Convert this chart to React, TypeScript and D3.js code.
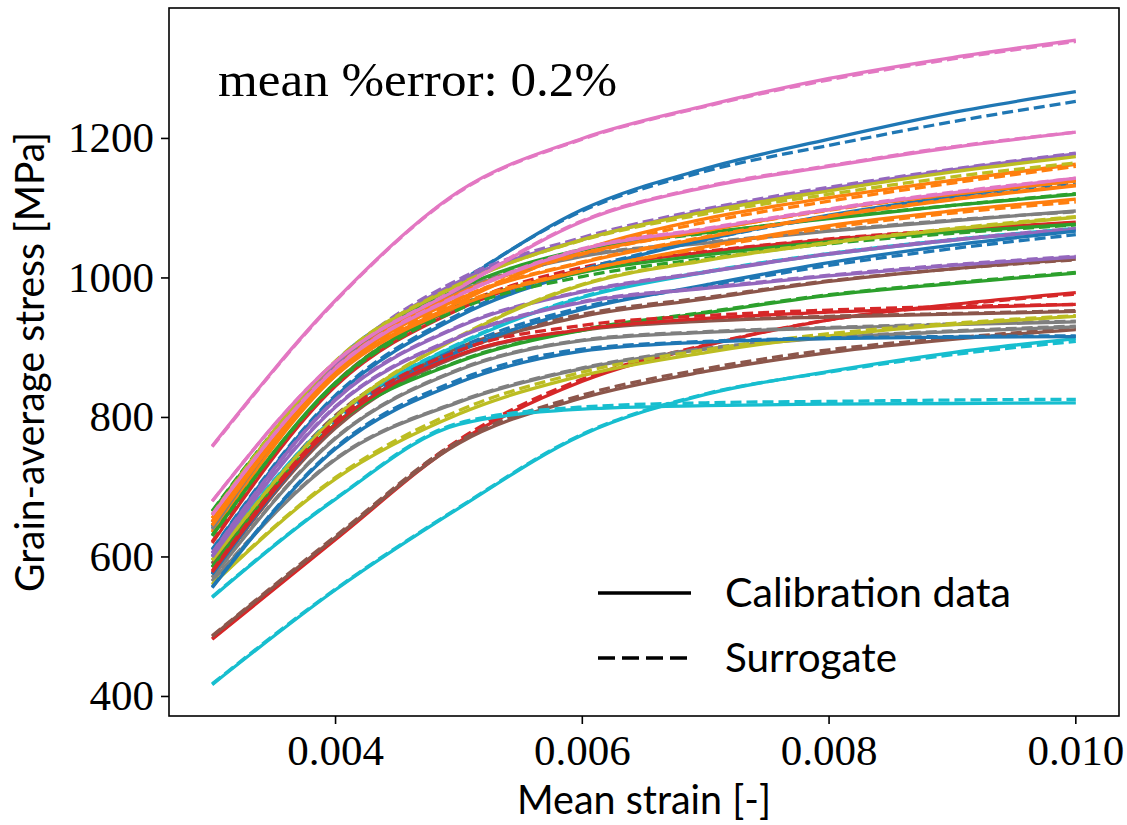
import React from 'react';
import * as d3 from 'd3';

const strain = [0.003, 0.004, 0.005, 0.006, 0.007, 0.008, 0.009, 0.010];

// Calibration data (solid), one row per sample; colour follows tab10 order by index
const calibration: number[][] = [
  [645, 880, 993, 1098, 1157, 1199, 1237, 1267],
  [635, 860, 965, 1040, 1085, 1115, 1140, 1163],
  [665, 875, 985, 1041, 1065, 1085, 1104, 1120],
  [620, 845, 955, 1012, 1037, 1055, 1069, 1080],
  [650, 875, 995, 1055, 1097, 1128, 1155, 1178],
  [590, 800, 895, 945, 970, 995, 1013, 1027],
  [759, 968, 1124, 1200, 1247, 1286, 1316, 1341],
  [640, 870, 980, 1031, 1050, 1067, 1082, 1096],
  [660, 880, 990, 1055, 1095, 1125, 1152, 1174],
  [600, 800, 905, 972, 1008, 1034, 1054, 1070],
  [610, 830, 945, 1010, 1055, 1090, 1117, 1140],
  [655, 870, 978, 1035, 1068, 1098, 1120, 1139],
  [630, 850, 960, 1008, 1033, 1052, 1066, 1077],
  [482, 625, 765, 852, 903, 940, 962, 979],
  [605, 825, 930, 980, 1008, 1034, 1054, 1070],
  [575, 785, 888, 925, 938, 944, 948, 952],
  [680, 880, 985, 1081, 1130, 1160, 1187, 1209],
  [570, 770, 868, 910, 922, 928, 933, 937],
  [595, 800, 915, 990, 1025, 1050, 1070, 1087],
  [417, 553, 670, 775, 833, 866, 893, 913],
  [575, 790, 895, 955, 990, 1022, 1047, 1067],
  [645, 865, 970, 1022, 1058, 1088, 1112, 1132],
  [585, 790, 880, 925, 950, 975, 992, 1007],
  [578, 790, 890, 926, 942, 951, 957, 962],
  [600, 815, 915, 965, 985, 1003, 1018, 1030],
  [486, 628, 763, 828, 866, 893, 912, 926],
  [660, 870, 975, 1041, 1070, 1098, 1122, 1143],
  [565, 740, 822, 870, 898, 914, 923, 930],
  [560, 712, 805, 860, 893, 917, 933, 945],
  [542, 683, 790, 812, 817, 819, 820, 821],
  [556, 755, 850, 895, 908, 913, 915, 916],
  [650, 860, 960, 1010, 1045, 1075, 1096, 1113],
];

// Surrogate predictions (dashed)
const surrogate: number[][] = [
  [643, 878, 994, 1096, 1153, 1190, 1224, 1253],
  [637, 862, 968, 1038, 1080, 1110, 1136, 1160],
  [666, 876, 983, 1040, 1064, 1086, 1104, 1121],
  [622, 850, 960, 1015, 1038, 1056, 1069, 1079],
  [650, 877, 998, 1058, 1099, 1130, 1156, 1179],
  [591, 803, 900, 948, 972, 996, 1013, 1026],
  [758, 967, 1123, 1199, 1246, 1284, 1314, 1339],
  [641, 871, 981, 1032, 1051, 1068, 1083, 1095],
  [661, 881, 991, 1054, 1092, 1120, 1145, 1165],
  [601, 801, 906, 973, 1009, 1035, 1055, 1071],
  [611, 832, 948, 1012, 1055, 1088, 1113, 1135],
  [656, 871, 977, 1034, 1068, 1097, 1120, 1140],
  [631, 848, 955, 1002, 1028, 1049, 1064, 1076],
  [483, 627, 768, 855, 904, 940, 961, 977],
  [606, 826, 931, 981, 1009, 1035, 1055, 1071],
  [576, 786, 889, 926, 939, 945, 949, 953],
  [680, 880, 986, 1082, 1131, 1161, 1188, 1209],
  [571, 771, 869, 911, 923, 929, 934, 938],
  [596, 801, 916, 991, 1026, 1051, 1071, 1088],
  [418, 554, 671, 776, 834, 865, 890, 909],
  [576, 793, 900, 958, 988, 1018, 1042, 1062],
  [646, 866, 971, 1023, 1059, 1089, 1113, 1133],
  [586, 791, 881, 926, 951, 976, 993, 1008],
  [580, 795, 896, 932, 946, 954, 959, 962],
  [601, 816, 916, 966, 986, 1004, 1019, 1031],
  [487, 630, 766, 832, 870, 897, 914, 928],
  [661, 871, 976, 1042, 1071, 1099, 1123, 1143],
  [566, 741, 823, 871, 899, 915, 924, 931],
  [561, 714, 810, 865, 897, 920, 935, 946],
  [543, 684, 792, 815, 821, 823, 825, 826],
  [557, 757, 854, 898, 909, 914, 916, 917],
  [651, 862, 962, 1011, 1043, 1072, 1093, 1109],
];

const xTicks = [0.004, 0.006, 0.008, 0.010];
const xTickLabels = ['0.004', '0.006', '0.008', '0.010'];
const yTicks = [400, 600, 800, 1000, 1200];
const yTickLabels = ['400', '600', '800', '1000', '1200'];
const legendLabels = ['Calibration data', 'Surrogate'];
const annotationText = 'mean %error: 0.2%';
const xLabel = 'Mean strain [-]';
const yLabel = 'Grain-average stress [MPa]';

export default function App() {
  const W = 1127;
  const H = 825;
  const left = 169, right = 1119, top = 8, bottom = 716;

  const x = d3.scaleLinear().domain([0.00265, 0.01035]).range([left, right]);
  const y = d3.scaleLinear().domain([372, 1387]).range([bottom, top]);
  const color = d3.scaleOrdinal<number, string>().domain(d3.range(10)).range(d3.schemeCategory10);

  const line = d3
    .line<number>()
    .x((_, j) => x(strain[j]))
    .y((d) => y(d))
    .curve(d3.curveMonotoneX);

  const serif = "'Liberation Serif', 'Times New Roman', serif";
  const sans = "Lato, 'Open Sans', 'DejaVu Sans', sans-serif";
  const lw = 3.3;

  return (
    <svg
      width={W}
      height={H}
      viewBox={`0 0 ${W} ${H}`}
      style={{ position: 'absolute', left: 0, top: 0, background: '#fff' }}
    >
      <rect x={0} y={0} width={W} height={H} fill="#fff" />
      <defs>
        <clipPath id="plotArea">
          <rect x={left} y={top} width={right - left} height={bottom - top} />
        </clipPath>
      </defs>

      <g clipPath="url(#plotArea)" fill="none" strokeLinejoin="round">
        {calibration.map((row, i) => (
          <g key={i}>
            <path d={line(row) || ''} stroke={color(i % 10)} strokeWidth={lw} />
            <path
              d={line(surrogate[i]) || ''}
              stroke={color(i % 10)}
              strokeWidth={lw}
              strokeDasharray="11,5"
            />
          </g>
        ))}
      </g>

      {/* frame */}
      <rect
        x={left}
        y={top}
        width={right - left}
        height={bottom - top}
        fill="none"
        stroke="#000"
        strokeWidth={1.6}
      />

      {/* x ticks */}
      {xTicks.map((t, i) => (
        <g key={'xt' + i}>
          <line x1={x(t)} x2={x(t)} y1={bottom} y2={bottom + 8} stroke="#000" strokeWidth={1.6} />
          <text
            x={x(t)}
            y={765}
            textAnchor="middle"
            fontFamily={serif}
            fontSize={43}
            fill="#000"
          >
            {xTickLabels[i]}
          </text>
        </g>
      ))}

      {/* y ticks */}
      {yTicks.map((t, i) => (
        <g key={'yt' + i}>
          <line x1={left - 8} x2={left} y1={y(t)} y2={y(t)} stroke="#000" strokeWidth={1.6} />
          <text
            x={154}
            y={y(t) + 14}
            textAnchor="end"
            fontFamily={serif}
            fontSize={43}
            fill="#000"
          >
            {yTickLabels[i]}
          </text>
        </g>
      ))}

      {/* axis labels */}
      <text
        x={(left + right) / 2}
        y={814}
        textAnchor="middle"
        fontFamily={sans}
        fontSize={41}
        textLength={254}
        lengthAdjust="spacingAndGlyphs"
        fill="#000"
      >
        {xLabel}
      </text>
      <text
        transform={`translate(44, ${(top + bottom) / 2}) rotate(-90)`}
        textAnchor="middle"
        fontFamily={sans}
        fontSize={41}
        textLength={460}
        lengthAdjust="spacingAndGlyphs"
        fill="#000"
      >
        {yLabel}
      </text>

      {/* annotation */}
      <text
        x={218}
        y={96}
        fontFamily={serif}
        fontSize={48}
        textLength={399}
        lengthAdjust="spacingAndGlyphs"
        fill="#000"
      >
        {annotationText}
      </text>

      {/* legend */}
      <line x1={598} x2={691} y1={593} y2={593} stroke="#000" strokeWidth={3.5} />
      <line
        x1={598}
        x2={691}
        y1={658}
        y2={658}
        stroke="#000"
        strokeWidth={3.5}
        strokeDasharray="17,7"
      />
      <text
        x={725}
        y={607}
        fontFamily={sans}
        fontSize={41}
        textLength={286}
        lengthAdjust="spacingAndGlyphs"
        fill="#000"
      >
        {legendLabels[0]}
      </text>
      <text
        x={725}
        y={672}
        fontFamily={sans}
        fontSize={41}
        textLength={172}
        lengthAdjust="spacingAndGlyphs"
        fill="#000"
      >
        {legendLabels[1]}
      </text>
    </svg>
  );
}
